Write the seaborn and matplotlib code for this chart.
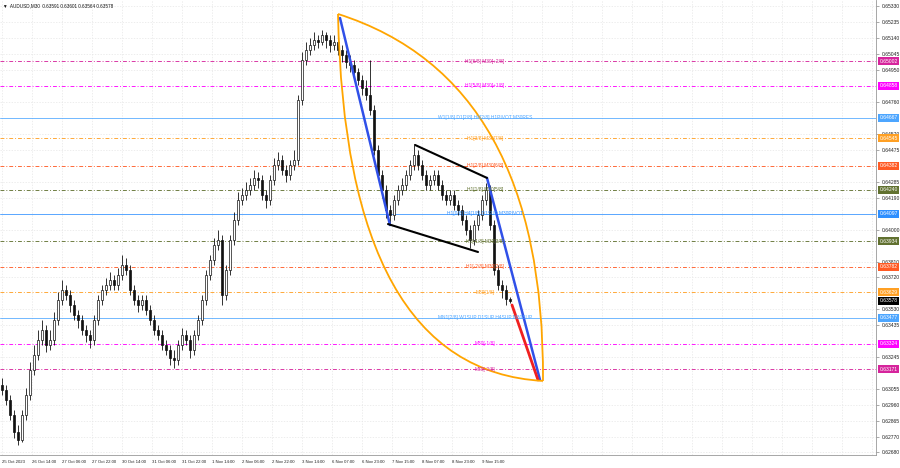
import numpy as np
import seaborn as sns
import matplotlib.pyplot as plt
from matplotlib.path import Path
from matplotlib.patches import PathPatch
import matplotlib.transforms as mtransforms

# AUDUSD M30 candles (one candle per ~3-4 bars of the original)
first_open = 0.63079
closes = [0.63049, 0.62990, 0.62901, 0.62800, 0.62752, 0.62901, 0.63020, 0.63168, 0.63257, 0.63346,
          0.63406, 0.63317, 0.63346, 0.63465, 0.63584, 0.63643, 0.63614, 0.63554, 0.63495, 0.63465,
          0.63406, 0.63376, 0.63346, 0.63465, 0.63584, 0.63643, 0.63673, 0.63703, 0.63673, 0.63733,
          0.63792, 0.63762, 0.63643, 0.63584, 0.63554, 0.63584, 0.63525, 0.63465, 0.63406, 0.63376,
          0.63317, 0.63287, 0.63240, 0.63228, 0.63317, 0.63376, 0.63346, 0.63287, 0.63376, 0.63465,
          0.63584, 0.63733, 0.63822, 0.63911, 0.63940, 0.63614, 0.63762, 0.63940, 0.64059, 0.64178,
          0.64208, 0.64237, 0.64267, 0.64309, 0.64297, 0.64208, 0.64178, 0.64297, 0.64386, 0.64416,
          0.64356, 0.64327, 0.64386, 0.64416, 0.64772, 0.65010, 0.65069, 0.65099, 0.65128, 0.65117,
          0.65158, 0.65128, 0.65099, 0.65117, 0.65069, 0.65039, 0.64998, 0.64980, 0.64938, 0.64891,
          0.64843, 0.64802, 0.64713, 0.64475, 0.64327, 0.64237, 0.64119, 0.64089, 0.64178, 0.64237,
          0.64267, 0.64327, 0.64386, 0.64445, 0.64386, 0.64327, 0.64267, 0.64297, 0.64327, 0.64267,
          0.64208, 0.64178, 0.64208, 0.64148, 0.64119, 0.64059, 0.64000, 0.63940, 0.64029, 0.64089,
          0.64178, 0.64237, 0.64029, 0.63762, 0.63673, 0.63643, 0.63591, 0.63578]
highs = [0.63121, 0.63079, 0.63020, 0.62931, 0.62842, 0.62931, 0.63061, 0.63216, 0.63317, 0.63406,
         0.63465, 0.63436, 0.63406, 0.63513, 0.63632, 0.63703, 0.63673, 0.63643, 0.63584, 0.63525,
         0.63495, 0.63436, 0.63406, 0.63495, 0.63614, 0.63673, 0.63715, 0.63750, 0.63733, 0.63774,
         0.63851, 0.63834, 0.63792, 0.63673, 0.63614, 0.63614, 0.63614, 0.63554, 0.63495, 0.63436,
         0.63406, 0.63346, 0.63317, 0.63287, 0.63346, 0.63418, 0.63406, 0.63376, 0.63406, 0.63495,
         0.63614, 0.63762, 0.63851, 0.63952, 0.64000, 0.63970, 0.63792, 0.63970, 0.64107, 0.64226,
         0.64249, 0.64285, 0.64309, 0.64356, 0.64344, 0.64327, 0.64237, 0.64327, 0.64428, 0.64463,
         0.64445, 0.64386, 0.64416, 0.64475, 0.64802, 0.65057, 0.65117, 0.65140, 0.65176, 0.65158,
         0.65188, 0.65176, 0.65158, 0.65158, 0.65140, 0.65099, 0.65069, 0.65039, 0.65010, 0.64962,
         0.64921, 0.64891, 0.65010, 0.64742, 0.64505, 0.64356, 0.64267, 0.64148, 0.64208, 0.64267,
         0.64309, 0.64356, 0.64416, 0.64505, 0.64475, 0.64416, 0.64356, 0.64327, 0.64356, 0.64356,
         0.64297, 0.64237, 0.64237, 0.64237, 0.64178, 0.64148, 0.64089, 0.64029, 0.64059, 0.64119,
         0.64208, 0.64279, 0.64267, 0.64059, 0.63792, 0.63703, 0.63673, 0.63601]
lows = [0.63020, 0.62960, 0.62871, 0.62764, 0.62723, 0.62741, 0.62871, 0.62990, 0.63139, 0.63228,
        0.63317, 0.63275, 0.63287, 0.63317, 0.63436, 0.63554, 0.63584, 0.63513, 0.63465, 0.63418,
        0.63376, 0.63335, 0.63299, 0.63317, 0.63436, 0.63554, 0.63614, 0.63643, 0.63643, 0.63643,
        0.63703, 0.63733, 0.63614, 0.63554, 0.63513, 0.63525, 0.63495, 0.63436, 0.63376, 0.63346,
        0.63287, 0.63257, 0.63198, 0.63180, 0.63198, 0.63287, 0.63317, 0.63240, 0.63257, 0.63346,
        0.63436, 0.63554, 0.63703, 0.63792, 0.63881, 0.63554, 0.63584, 0.63733, 0.63911, 0.64029,
        0.64148, 0.64178, 0.64208, 0.64237, 0.64249, 0.64178, 0.64131, 0.64148, 0.64267, 0.64356,
        0.64327, 0.64285, 0.64297, 0.64356, 0.64386, 0.64742, 0.64980, 0.65039, 0.65069, 0.65081,
        0.65099, 0.65081, 0.65057, 0.65069, 0.65039, 0.64998, 0.64962, 0.64938, 0.64903, 0.64861,
        0.64802, 0.64772, 0.64683, 0.64445, 0.64297, 0.64190, 0.64071, 0.64029, 0.64059, 0.64148,
        0.64208, 0.64237, 0.64297, 0.64356, 0.64356, 0.64297, 0.64237, 0.64237, 0.64267, 0.64237,
        0.64178, 0.64148, 0.64148, 0.64119, 0.64089, 0.64029, 0.63970, 0.63893, 0.63911, 0.64000,
        0.64059, 0.64148, 0.64000, 0.63733, 0.63643, 0.63596, 0.63554, 0.63564]

date_labels = ["25 Oct 2023", "26 Oct 14:00", "27 Oct 06:00", "27 Oct 22:00", "30 Oct 14:00",
               "31 Oct 06:00", "31 Oct 22:00", "1 Nov 14:00", "2 Nov 06:00", "2 Nov 22:00",
               "3 Nov 14:00", "6 Nov 07:00", "6 Nov 23:00", "7 Nov 15:00", "8 Nov 07:00",
               "8 Nov 23:00", "9 Nov 15:00"]
price_ticks = [0.65330, 0.65235, 0.65140, 0.65045, 0.64950, 0.64760, 0.64570, 0.64475,
               0.64285, 0.64190, 0.64000, 0.63810, 0.63720, 0.63530, 0.63435,
               0.63245, 0.63055, 0.62960, 0.62865, 0.62770, 0.62680]

# Murrey-math levels
level_prices = [0.65002, 0.64858, 0.64667, 0.64545, 0.64382, 0.64240, 0.64097,
                0.63934, 0.63782, 0.63629, 0.63477, 0.63324, 0.63171]
level_names = ["H1[6/8] M30[+2/8]", "H1[5/8] M30[+1/8]", "W1[1/8] D1[2/8] H4[2/8] H1PIVOT M30RES",
               "H1[3/8] M30[7/8]", "H1[2/8] M30[6/8]", "H1[1/8] M30[5/8]",
               "H1[0/8] H4[1/8] D1SUP M30PIVOT", "H1[-1/8] M30[3/8]", "H1[-2/8] M30[2/8]",
               "M30[1/8]", "MN1[2/8] W1SUP D1SUP H4SUP M30SUP", "M30[-1/8]", "M30[-2/8]"]
level_colors = ["#d6249c", "#ff00ff", "#4da6ff", "#ffa024", "#ff5a24", "#617130", "#2e8fff",
                "#617130", "#ff5a24", "#ffa024", "#4da6ff", "#ff00ff", "#d6249c"]
level_solid = [False, False, True, False, False, False, True, False, False, False, True, False, False]
last_price = 0.63578

# forecast drawings (bar index, price)
blue1 = ([84.5, 97.0], [0.65259, 0.64029])
blue2 = ([121.25, 134.5], [0.64309, 0.63109])
chan_top = ([103.25, 121.25], [0.64505, 0.64309])
chan_bot = ([96.5, 119.0], [0.64035, 0.63869])
red_proj = ([127.5, 134.0], [0.63554, 0.63109])
arc_right = [(84.0, 0.65283), (135.75, 0.64891), (135.25, 0.63103)]
arc_left = [(84.0, 0.65283), (85.75, 0.63168), (135.25, 0.63103)]

sns.set_style("white")
plt.rcParams['font.family'] = ['Liberation Sans', 'DejaVu Sans']

fig = plt.figure(figsize=(9, 4.68), dpi=100)
ax = fig.add_axes([0.0, 13 / 468, 876 / 900, 455 / 468])

c = np.array(closes)
o = np.array([first_open] + closes[:-2] + [0.63591])
h = np.array(highs)
l = np.array(lows)
idx = np.arange(len(c))
up = c >= o

ax.vlines(idx, l, h, color="#111111", lw=0.6, zorder=3)
ax.bar(idx[up], np.maximum(c - o, 0.00002)[up], bottom=o[up], width=0.6,
       color="white", edgecolor="#111111", lw=0.5, zorder=4)
ax.bar(idx[~up], np.maximum(o - c, 0.00002)[~up], bottom=c[~up], width=0.6,
       color="#111111", edgecolor="#111111", lw=0.5, zorder=4)

x_ticks = np.arange(0, 219, 7.5)
for xt in x_ticks:
    ax.axvline(xt, color="#e6e6e6", lw=0.5, ls=(0, (2, 2)), zorder=0)
for yt in price_ticks:
    ax.axhline(yt, color="#e6e6e6", lw=0.5, ls=(0, (2, 2)), zorder=0)

for p, name, col, solid in zip(level_prices, level_names, level_colors, level_solid):
    ls = "-" if solid else (0, (4, 2, 1, 2))
    ax.axhline(p, color=col, lw=0.7, ls=ls, alpha=0.8 if solid else 0.9, zorder=1)
    ax.text(120.75, p, name, color=col, fontsize=3.5, ha="center", va="center", zorder=6)

# trend lines
sns.lineplot(x=blue1[0], y=blue1[1], ax=ax, color="#3050e8", lw=1.8, zorder=5)
sns.lineplot(x=blue2[0], y=blue2[1], ax=ax, color="#3050e8", lw=1.8, zorder=5)
sns.lineplot(x=chan_top[0], y=chan_top[1], ax=ax, color="black", lw=1.5, zorder=5)
sns.lineplot(x=chan_bot[0], y=chan_bot[1], ax=ax, color="black", lw=1.5, zorder=5)
sns.lineplot(x=red_proj[0], y=red_proj[1], ax=ax, color="#f02020", lw=2.0, zorder=5)

for arc in (arc_right, arc_left):
    path = Path(arc, [Path.MOVETO, Path.CURVE3, Path.CURVE3])
    ax.add_patch(PathPatch(path, fill=False, edgecolor="#ffa500", lw=1.3, zorder=5))

ax.set_xlim(-0.5, 218.5)
ax.set_ylim(0.62663, 0.65366)

ax.set_xticks(x_ticks[:len(date_labels)])
ax.set_xticklabels(date_labels, fontsize=3.1, ha="left", color="#222222")
ax.yaxis.tick_right()
ax.set_yticks(price_ticks)
ax.set_yticklabels([f"{v:.5f}" for v in price_ticks], fontsize=3.6, color="#222222")
ax.tick_params(axis="both", length=2, width=0.5, color="#888888", pad=1.5)
ax.tick_params(axis="y", pad=2)

for s in ("top", "left"):
    ax.spines[s].set_visible(False)
for s in ("right", "bottom"):
    ax.spines[s].set_color("#999999")
    ax.spines[s].set_linewidth(0.6)

# price boxes on the right scale
trans = mtransforms.blended_transform_factory(ax.transAxes, ax.transData)
box_prices = level_prices + [last_price]
box_colors = level_colors + ["black"]
for p, col in zip(box_prices, box_colors):
    ax.text(1.004, p, f"{p:.5f}", transform=trans, fontsize=3.6, color="white",
            ha="left", va="center", zorder=10, clip_on=False,
            bbox=dict(boxstyle="square,pad=0.3", fc=col, ec="none"))

fig.text(0.003, 0.992, "\u25bc  AUDUSD,M30  0.63591 0.63601 0.63564 0.63578",
         fontsize=3.3, ha="left", va="top", color="#111111")

fig.savefig("out.png", dpi=100)
